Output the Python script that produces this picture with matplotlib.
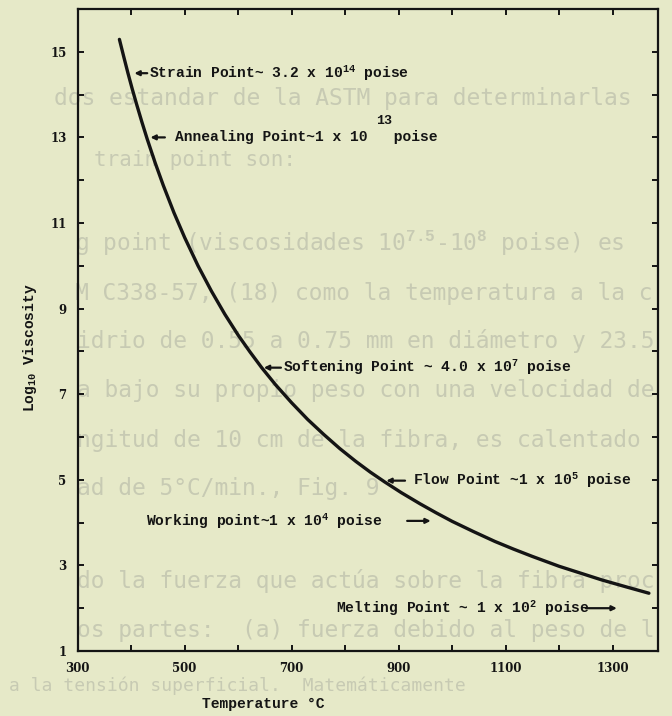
import matplotlib
matplotlib.use("Agg")
import matplotlib.pyplot as plt

# ---------------- data ----------------
temperature = [378, 386, 394, 402, 410, 420, 430, 445, 460, 480, 500, 525,
               550, 575, 600, 622, 644, 670, 700, 730, 760, 790, 820, 847,
               874, 905, 940, 970, 1000, 1040, 1080, 1115, 1150, 1200, 1240,
               1280, 1325, 1368]
log_viscosity = [15.29, 14.89, 14.50, 14.13, 13.78, 13.36, 12.96, 12.40, 11.88,
                 11.24, 10.66, 10.00, 9.41, 8.87, 8.38, 7.99, 7.62, 7.22, 6.80,
                 6.41, 6.06, 5.73, 5.43, 5.18, 4.95, 4.70, 4.44, 4.23, 4.03,
                 3.79, 3.56, 3.38, 3.21, 2.98, 2.82, 2.66, 2.50, 2.35]

x_ticks = [300, 400, 500, 600, 700, 800, 900, 1000, 1100, 1200, 1300]
x_tick_labels = ["300", "", "500", "", "700", "", "900", "", "1100", "", "1300"]
y_ticks = list(range(1, 16))
y_tick_labels = [str(v) if v % 2 == 1 else "" for v in y_ticks]

point_labels = [
    "Strain Point~ 3.2 x 10$^{14}$ poise",
    "Annealing Point~1 x 10   poise",
    "Softening Point ~ 4.0 x 10$^{7}$ poise",
    "Flow Point ~1 x 10$^{5}$ poise",
    "Working point~1 x 10$^{4}$ poise",
    "Melting Point ~ 1 x 10$^{2}$ poise",
]
point_log_visc = [14.5, 13.0, 7.62, 4.98, 4.04, 2.0]

x_label = "Temperature \u00b0C"
y_label = "Log$_{10}$ Viscosity"

ghost_lines = [
    "dos estandar de la ASTM para determinarlas",
    "train point son:",
    "g point (viscosidades 10$^{7.5}$-10$^{8}$ poise) es",
    "M C338-57, (18) como la temperatura a la c",
    "idrio de 0.55 a 0.75 mm en di\u00e1metro y 23.5",
    "a bajo su propio peso con una velocidad de",
    "ngitud de 10 cm de la fibra, es calentado",
    "ad de 5\u00b0C/min., Fig. 9",
    "do la fuerza que act\u00faa sobre la fibra proc",
    "os partes:  (a) fuerza debido al peso de l",
    "a la tensi\u00f3n superficial.  Matem\u00e1ticamente",
]

# ---------------- style ----------------
BG = "#e6e9c8"
INK = "#141414"
plt.rcParams["mathtext.fontset"] = "custom"
plt.rcParams["mathtext.rm"] = "Liberation Mono:bold"
plt.rcParams["mathtext.it"] = "Liberation Mono:bold"
plt.rcParams["mathtext.bf"] = "Liberation Mono:bold"

W, H = 672, 716
fig = plt.figure(figsize=(W / 100, H / 100), dpi=100, facecolor=BG)

# faint bleed-through text of the scanned page
ghost_pos = [(54, 99), (94, 160), (75, 243), (75, 293), (77, 341), (77, 391),
             (77, 440), (77, 488), (77, 581), (77, 631), (9, 686)]
ghost_size = [16.5, 15] + [16.5] * 8 + [13]
for (gx, gy), line, gs in zip(ghost_pos, ghost_lines, ghost_size):
    fig.text(gx / W, 1 - gy / H, line, family="DejaVu Sans Mono", fontsize=gs,
             color="#c7cab3", ha="left", va="center", zorder=-5)

ax = fig.add_axes([77.7 / W, 1 - 651 / H, (658 - 77.7) / W, (651 - 9) / H])
ax.set_facecolor("none")

ax.plot(temperature, log_viscosity, color=INK, lw=2.4, solid_capstyle="round",
        solid_joinstyle="round")

ax.set_xlim(300, 1385)
ax.set_ylim(1, 16)
for s in ax.spines.values():
    s.set_linewidth(1.6)
    s.set_color(INK)

ax.set_xticks(x_ticks)
ax.set_xticklabels(x_tick_labels)
ax.set_yticks(y_ticks)
ax.set_yticklabels(y_tick_labels)
ax.tick_params(direction="in", length=4, width=1.4, colors=INK,
               top=True, right=True, labelsize=8.5, pad=8)
for lab in ax.get_xticklabels() + ax.get_yticklabels():
    lab.set_fontweight("bold")
    lab.set_family("DejaVu Serif")

tfont = dict(family="Liberation Mono", fontweight="bold", fontsize=10.5, color=INK)

ax.set_xlabel(x_label, **tfont)
ax.xaxis.set_label_coords(0.319, -0.083)
ax.xaxis.label.set_va("center")
ax.set_ylabel(y_label, **tfont)
ax.yaxis.set_label_coords(-0.082, 0.473)
ax.yaxis.label.set_va("center")

arrow = dict(arrowstyle="-|>", lw=1.6, color=INK, mutation_scale=7,
             shrinkA=0, shrinkB=0)

# (text x, arrow head x, arrow tail x) for each labelled point
text_x = [433, 482, 684, 927, 428, 783]
head_x = [406, 436, 648, 877, 960, 1308]
tail_x = [430, 463, 680, 912, 916, 1250]
for lab, yv, tx, hx, tl in zip(point_labels, point_log_visc, text_x, head_x, tail_x):
    ax.text(tx, yv, lab, ha="left", va="center", **tfont)
    ax.annotate("", xy=(hx, yv), xytext=(tl, yv), arrowprops=arrow)

# raised exponent of the annealing point, typed high above the line
ax.text(872, 13.38, "13", ha="center", va="center", family="Liberation Mono",
        fontweight="bold", fontsize=9.5, color=INK)

fig.savefig("out.png", dpi=100, facecolor=BG)
